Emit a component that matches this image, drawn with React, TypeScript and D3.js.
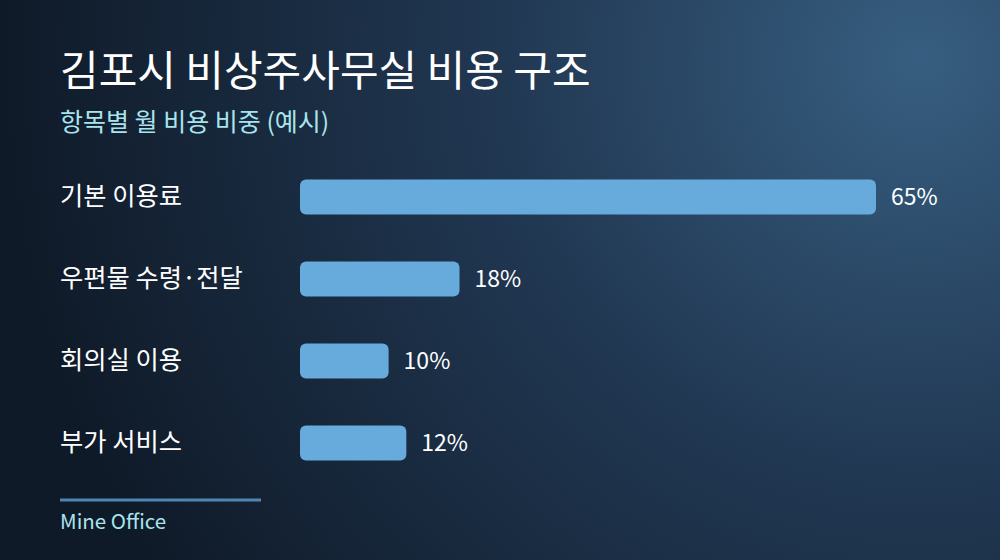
import React from "react";
import * as d3 from "d3";

const categories = ["기본 이용료", "우편물 수령·전달", "회의실 이용", "부가 서비스"];
const values = [65, 18, 10, 12];
const title = "김포시 비상주사무실 비용 구조";
const subtitle = "항목별 월 비용 비중 (예시)";
const footer = "Mine Office";

const W = 1000;
const H = 560;
const FONT = "'Noto Sans CJK KR', 'Noto Sans', sans-serif";

export default function App() {
  const x = d3.scaleLinear().domain([0, 65]).range([300, 876]);
  const y = d3.scaleBand().domain(categories).range([156, 484]).paddingInner(0.573).paddingOuter(0.286);
  return (
    <svg width={W} height={H} style={{ position: "absolute", left: 0, top: 0, display: "block" }}>
      <defs>
        <radialGradient id="bg" cx="920" cy="60" r="920" gradientUnits="userSpaceOnUse">
          <stop offset="0" stopColor="#375e80" />
          <stop offset="0.45" stopColor="#213853" />
          <stop offset="1" stopColor="#0f1a28" />
        </radialGradient>
      </defs>
      <rect width={W} height={H} fill="url(#bg)" />
      <text x={60} y={86} fill="#ffffff" fontFamily={FONT} fontSize={42} fontWeight={400}>{title}</text>
      <text x={60} y={131} fill="#a9e4ee" fontFamily={FONT} fontSize={25}>{subtitle}</text>
      {categories.map((c, i) => {
        const yy = y(c)!;
        const bw = y.bandwidth();
        return (
          <g key={c}>
            <text x={60} y={yy + bw / 2} dy="0.33em" fill="#ffffff" fontFamily={FONT} fontSize={25.3}>{c}</text>
            <rect x={x(0)} y={yy} width={x(values[i]) - x(0)} height={bw} rx={6} fill="#67aadc" />
            <text x={x(values[i]) + 15} y={yy + bw / 2} dy="0.35em" fill="#ffffff" fontFamily={FONT} fontSize={23}>{values[i]}%</text>
          </g>
        );
      })}
      <line x1={60} x2={261} y1={500} y2={500} stroke="#4e86b1" strokeWidth={3} />
      <text x={60} y={529} fill="#a9e4ee" fontFamily={FONT} fontSize={20.5}>{footer}</text>
    </svg>
  );
}
